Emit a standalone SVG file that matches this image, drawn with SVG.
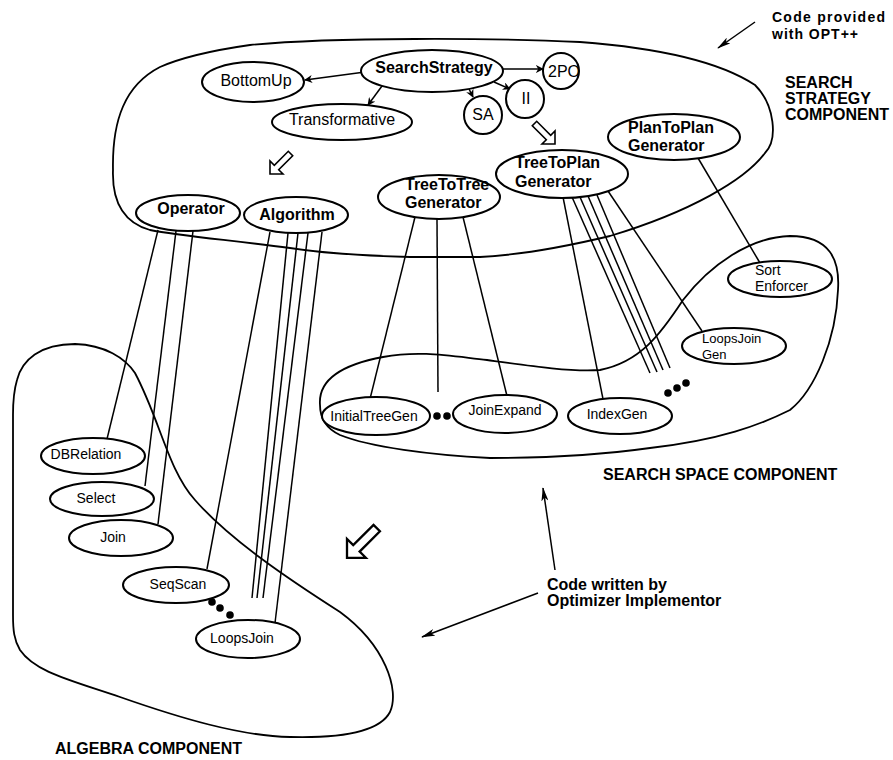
<svg xmlns="http://www.w3.org/2000/svg" width="893" height="760" viewBox="0 0 893 760">
<defs>
  <marker id="tip" viewBox="0 0 10 10" refX="9" refY="5" markerWidth="8" markerHeight="8" markerUnits="userSpaceOnUse" orient="auto">
    <path d="M0,0 L10,5 L0,10 L3,5 Z" fill="#000"/>
  </marker>
  <marker id="spear" viewBox="0 0 16 8" refX="15" refY="4" markerWidth="14" markerHeight="7" markerUnits="userSpaceOnUse" orient="auto">
    <path d="M0,0 L16,4 L0,8 L4,4 Z" fill="#000"/>
  </marker>
  <!-- open block arrow pointing down-left -->
  <polygon id="hollowSW" points="0,24 0,11 4.3,15.3 18.3,1.3 22.7,5.7 8.7,19.7 13,24" fill="#fff" stroke="#000" stroke-width="1.6" stroke-linejoin="miter"/>
</defs>
<style>
  .region{fill:none;stroke:#000;stroke-width:1.8}
  .node ellipse,.node circle{fill:#fff;stroke:#000;stroke-width:2}
  text{font-family:"Liberation Sans",Arial,sans-serif;fill:#000}
  .n{font-size:14px}
  .s{font-size:13px}
  .m{font-size:16px}
  .b{font-size:16px;font-weight:bold}
  .lab{font-size:16px;font-weight:bold}
  .lab2{font-size:14px;font-weight:bold}
  .link{stroke:#000;stroke-width:1.5;fill:none}
  .mid{text-anchor:middle}
  .dot{fill:#000}
</style>
<rect width="893" height="760" fill="#fff"/>

<!-- component regions -->
<g id="regions">
  <path id="search-strategy-region" class="region" d="M113,170 C112,120 125,85 160,67 C185,56 215,50 250,45 C330,37 500,38 580,42 C660,48 720,62 755,85 C775,105 778,140 765,153 C745,180 690,212 610,236 C560,248 520,255 480,257 L410,257 C370,256 330,254 290,248 C230,240 180,236 150,230 C122,222 112,200 113,170 Z"/>
  <path id="search-space-region" class="region" d="M320,405 C318,380 340,365 383,357 C420,350 450,356 487,360 C530,366 570,372 600,370 C640,362 660,335 683,300 C710,265 750,237 790,236 C830,236 840,260 838,290 C836,340 815,390 790,410 C760,425 720,440 650,448 C600,455 540,458 490,458 C430,455 370,447 340,435 C325,428 320,418 320,405 Z"/>
  <path id="algebra-region" class="region" d="M13,415 C13,400 14,390 17,380 C22,360 40,344 75,344 C105,345 125,358 135,373 C160,420 168,470 195,500 C230,540 290,580 340,612 C385,645 400,690 390,712 C378,735 330,738 290,737 C240,736 180,718 120,697 C70,680 35,672 20,650 C14,640 13,630 13,615 Z"/>
</g>

<!-- connectors -->
<g id="connectors">
  <line class="link" x1="365" y1="72" x2="305" y2="80" marker-end="url(#tip)"/>
  <line class="link" x1="382" y1="86" x2="368" y2="105" marker-end="url(#tip)"/>
  <line class="link" x1="469" y1="89" x2="473" y2="97" marker-end="url(#tip)"/>
  <line class="link" x1="494" y1="82" x2="510" y2="89" marker-end="url(#tip)"/>
  <line class="link" x1="503" y1="69" x2="543" y2="69" marker-end="url(#tip)"/>

  <line class="link" x1="158" y1="230" x2="107" y2="439"/>
  <line class="link" x1="176" y1="231" x2="145" y2="486"/>
  <line class="link" x1="193" y1="231" x2="158" y2="524"/>

  <line class="link" x1="270" y1="232" x2="207" y2="569"/>
  <line class="link" x1="288" y1="233" x2="252" y2="598"/>
  <line class="link" x1="298" y1="233" x2="257" y2="598"/>
  <line class="link" x1="308" y1="233" x2="263" y2="598"/>
  <line class="link" x1="322" y1="232" x2="275" y2="623"/>

  <line class="link" x1="415" y1="217" x2="370" y2="399"/>
  <line class="link" x1="437" y1="219" x2="438" y2="392"/>
  <line class="link" x1="463" y1="217" x2="507" y2="396"/>

  <line class="link" x1="563" y1="197" x2="603" y2="399"/>
  <line class="link" x1="572" y1="197" x2="650" y2="373"/>
  <line class="link" x1="580" y1="197" x2="657" y2="372"/>
  <line class="link" x1="588" y1="196" x2="663" y2="370"/>
  <line class="link" x1="597" y1="195" x2="670" y2="368"/>
  <line class="link" x1="608" y1="191" x2="702" y2="331"/>

  <line class="link" x1="698" y1="158" x2="760" y2="263"/>

  <line class="link" x1="755" y1="22" x2="718" y2="48" marker-end="url(#spear)"/>
  <line class="link" x1="555" y1="570" x2="543" y2="488" marker-end="url(#spear)"/>
  <line class="link" x1="538" y1="593" x2="422" y2="637" marker-end="url(#spear)"/>
</g>

<!-- search strategy nodes -->
<g id="SearchStrategy" class="node"><ellipse cx="432" cy="71" rx="71" ry="21"/><text class="b mid" x="434" y="73">SearchStrategy</text></g>
<g id="BottomUp" class="node"><ellipse cx="253" cy="82" rx="51" ry="20"/><text class="m mid" x="256" y="86">BottomUp</text></g>
<g id="Transformative" class="node"><ellipse cx="342" cy="122" rx="70" ry="18"/><text class="m mid" x="342" y="125">Transformative</text></g>
<g id="SA" class="node"><circle cx="483" cy="115" r="19"/><text class="m mid" x="483" y="120">SA</text></g>
<g id="II" class="node"><circle cx="525" cy="99" r="19"/><text class="m mid" x="526" y="104">II</text></g>
<g id="TwoPO" class="node"><circle cx="561" cy="71" r="18"/><text class="m mid" x="564" y="77">2PO</text></g>
<g id="Operator" class="node"><ellipse cx="188" cy="213" rx="52" ry="18"/><text class="b mid" x="191" y="214">Operator</text></g>
<g id="Algorithm" class="node"><ellipse cx="296" cy="215" rx="52" ry="18"/><text class="b mid" x="297" y="220">Algorithm</text></g>
<g id="TreeToTree" class="node"><ellipse cx="439" cy="197" rx="61" ry="22"/><text class="b" x="405" y="190">TreeToTree</text><text class="b" x="405" y="208">Generator</text></g>
<g id="TreeToPlan" class="node"><ellipse cx="562" cy="174" rx="66" ry="24"/><text class="b" x="515" y="168">TreeToPlan</text><text class="b" x="515" y="187">Generator</text></g>
<g id="PlanToPlan" class="node"><ellipse cx="674" cy="137" rx="66" ry="23"/><text class="b" x="628" y="133">PlanToPlan</text><text class="b" x="628" y="151">Generator</text></g>

<!-- search space nodes -->
<g id="SortEnforcer" class="node"><ellipse cx="780" cy="279" rx="52" ry="18"/><text class="n" x="755" y="275">Sort</text><text class="n" x="755" y="291">Enforcer</text></g>
<g id="LoopsJoinGen" class="node"><ellipse cx="734" cy="346" rx="52" ry="18"/><text class="s" x="702" y="343">LoopsJoin</text><text class="s" x="702" y="359">Gen</text></g>
<g id="InitialTreeGen" class="node"><ellipse cx="376" cy="416" rx="54" ry="19"/><text class="n mid" x="374" y="421">InitialTreeGen</text></g>
<g id="JoinExpand" class="node"><ellipse cx="505" cy="414" rx="52" ry="19"/><text class="n mid" x="505" y="415">JoinExpand</text></g>
<g id="IndexGen" class="node"><ellipse cx="620" cy="416" rx="52" ry="18"/><text class="n mid" x="617" y="419">IndexGen</text></g>

<!-- algebra nodes -->
<g id="DBRelation" class="node"><ellipse cx="93" cy="456" rx="52" ry="18"/><text class="n mid" x="86" y="459">DBRelation</text></g>
<g id="Select" class="node"><ellipse cx="102" cy="499" rx="52" ry="17"/><text class="n mid" x="96" y="503">Select</text></g>
<g id="Join" class="node"><ellipse cx="121" cy="538" rx="52" ry="18"/><text class="n mid" x="113" y="542">Join</text></g>
<g id="SeqScan" class="node"><ellipse cx="176" cy="585" rx="53" ry="18"/><text class="n mid" x="178" y="589">SeqScan</text></g>
<g id="LoopsJoin" class="node"><ellipse cx="248" cy="639" rx="52" ry="19"/><text class="n mid" x="242" y="643">LoopsJoin</text></g>

<!-- elision dots -->
<g id="ellipses-marks">
  <circle class="dot" cx="437" cy="416" r="3.8"/><circle class="dot" cx="447" cy="416" r="3.8"/>
  <circle class="dot" cx="212" cy="602" r="3.8"/><circle class="dot" cx="220" cy="608" r="3.8"/><circle class="dot" cx="230" cy="615" r="3.8"/>
  <circle class="dot" cx="668" cy="393" r="3.8"/><circle class="dot" cx="677" cy="388" r="3.8"/><circle class="dot" cx="686" cy="383" r="3.8"/>
</g>

<!-- open block arrows -->
<g id="block-arrows">
  <use href="#hollowSW" transform="translate(270,150)"/>
  <use href="#hollowSW" transform="translate(555,120) scale(-1,1)"/>
  <use href="#hollowSW" transform="translate(347,523) scale(1.45)"/>
</g>

<!-- annotations -->
<g id="labels">
  <text class="lab2" x="772" y="22" textLength="113">Code provided</text>
  <text class="lab2" x="772" y="39" textLength="86">with OPT++</text>
  <text class="lab" x="785" y="88">SEARCH</text>
  <text class="lab" x="785" y="104">STRATEGY</text>
  <text class="lab" x="785" y="120">COMPONENT</text>
  <text class="lab" x="603" y="480">SEARCH SPACE COMPONENT</text>
  <text class="lab" x="547" y="590">Code written by</text>
  <text class="lab" x="547" y="606">Optimizer Implementor</text>
  <text class="lab" x="55" y="754">ALGEBRA COMPONENT</text>
</g>
</svg>
